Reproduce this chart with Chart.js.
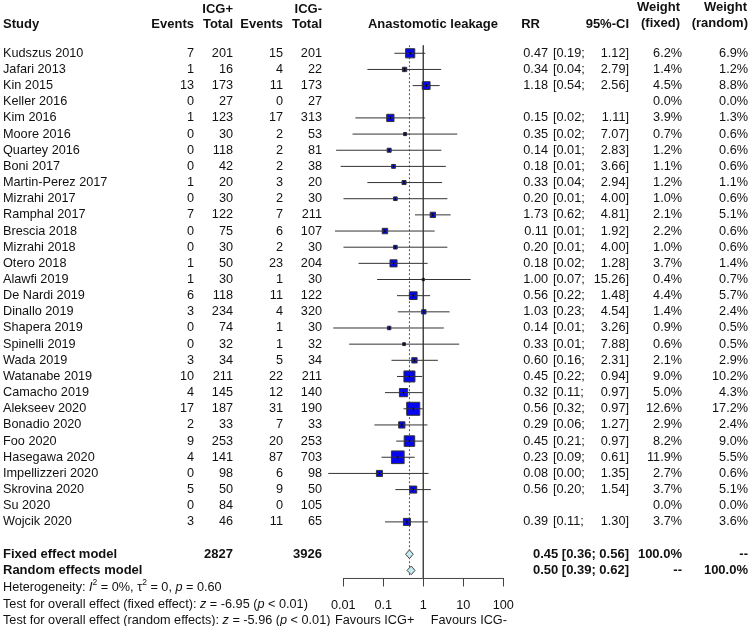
<!DOCTYPE html>
<html>
<head>
<meta charset="utf-8">
<script src="https://cdn.jsdelivr.net/npm/chart.js@4.4.1/dist/chart.umd.min.js"></script>
<style>
  html, body { margin: 0; padding: 0; background: #fff; }
  #wrap { position: relative; width: 749px; height: 626px; }
</style>
</head>
<body>
<div id="wrap"><canvas id="forest"></canvas></div>
<script>
// study table
const studies = ['Kudszus 2010', 'Jafari 2013', 'Kin 2015', 'Keller 2016', 'Kim 2016', 'Moore 2016',
  'Quartey 2016', 'Boni 2017', 'Martin-Perez 2017', 'Mizrahi 2017', 'Ramphal 2017', 'Brescia 2018',
  'Mizrahi 2018', 'Otero 2018', 'Alawfi 2019', 'De Nardi 2019', 'Dinallo 2019', 'Shapera 2019',
  'Spinelli 2019', 'Wada 2019', 'Watanabe 2019', 'Camacho 2019', 'Alekseev 2020', 'Bonadio 2020',
  'Foo 2020', 'Hasegawa 2020', 'Impellizzeri 2020', 'Skrovina 2020', 'Su 2020', 'Wojcik 2020'];
const eventsPos = [7, 1, 13, 0, 1, 0, 0, 0, 1, 0, 7, 0, 0, 1, 1, 6, 3, 0, 0, 3, 10, 4, 17, 2, 9, 4, 0, 5, 0, 3];
const totalPos = [201, 16, 173, 27, 123, 30, 118, 42, 20, 30, 122, 75, 30, 50, 30, 118, 234, 74, 32, 34, 211, 145, 187, 33, 253, 141, 98, 50, 84, 46];
const eventsNeg = [15, 4, 11, 0, 17, 2, 2, 2, 3, 2, 7, 6, 2, 23, 1, 11, 4, 1, 1, 5, 22, 12, 31, 7, 20, 87, 6, 9, 0, 11];
const totalNeg = [201, 22, 173, 27, 313, 53, 81, 38, 20, 30, 211, 107, 30, 204, 30, 122, 320, 30, 32, 34, 211, 140, 190, 33, 253, 703, 98, 50, 105, 65];
const rr = [0.47, 0.34, 1.18, null, 0.15, 0.35, 0.14, 0.18, 0.33, 0.20, 1.73, 0.11, 0.20, 0.18, 1.00, 0.56, 1.03, 0.14, 0.33, 0.60, 0.45, 0.32, 0.56, 0.29, 0.45, 0.23, 0.08, 0.56, null, 0.39];
// lower limits printed as 0.01 / 0.00 are estimated more finely from the line ends
const ciLow = [0.19, 0.04, 0.54, null, 0.02, 0.017, 0.0066, 0.0086, 0.04, 0.0101, 0.62, 0.0062, 0.0101, 0.024, 0.07, 0.22, 0.23, 0.0056, 0.014, 0.16, 0.22, 0.11, 0.32, 0.06, 0.21, 0.09, 0.0042, 0.20, null, 0.11];
const ciHigh = [1.12, 2.79, 2.56, null, 1.11, 7.07, 2.83, 3.66, 2.94, 4.00, 4.81, 1.92, 4.00, 1.28, 15.26, 1.48, 4.54, 3.26, 7.88, 2.31, 0.94, 0.97, 0.97, 1.27, 0.97, 0.61, 1.35, 1.54, null, 1.30];
const weightFixed = [6.2, 1.4, 4.5, 0.0, 3.9, 0.7, 1.2, 1.1, 1.2, 1.0, 2.1, 2.2, 1.0, 3.7, 0.4, 4.4, 1.4, 0.9, 0.6, 2.1, 9.0, 5.0, 12.6, 2.9, 8.2, 11.9, 2.7, 3.7, 0.0, 3.7];
const weightRandom = [6.9, 1.2, 8.8, 0.0, 1.3, 0.6, 0.6, 0.6, 1.1, 0.6, 5.1, 0.6, 0.6, 1.4, 0.7, 5.7, 2.4, 0.5, 0.5, 2.9, 10.2, 4.3, 17.2, 2.4, 9.0, 5.5, 0.6, 5.1, 0.0, 3.6];

// pooled estimates
const models = ['Fixed effect model', 'Random effects model'];
const modelRR = [0.45, 0.50];
const modelLow = [0.36, 0.39];
const modelHigh = [0.56, 0.62];
const modelWeightFixed = ['100.0%', '--'];
const modelWeightRandom = ['--', '100.0%'];
const totalsPos = 2827;
const totalsNeg = 3926;

const xTicks = [0.01, 0.1, 1, 10, 100];

const FONT = '"Liberation Sans", Arial, sans-serif';
const FONT_SIZE = 12.7;
const TOP_ROW = -0.5;
const AXIS_ROW = 32.5;
const ROW_FIXED = studies.length + 1;
const ROW_RANDOM = studies.length + 2;

Chart.defaults.font.family = FONT;
Chart.defaults.font.size = FONT_SIZE;
Chart.defaults.color = '#111';

// ---- datasets ----
const datasets = [];

studies.forEach((s, i) => {
  if (rr[i] == null) return;
  datasets.push({
    type: 'line',
    data: [{ x: ciLow[i], y: i }, { x: ciHigh[i], y: i }],
    borderColor: '#333',
    borderWidth: 1,
    pointRadius: 0,
    order: 1
  });
});

const squarePts = [];
const squareR = [];
studies.forEach((s, i) => {
  if (rr[i] == null) return;
  squarePts.push({ x: rr[i], y: i });
  squareR.push(2.6 * Math.sqrt(weightFixed[i]));
});

datasets.push({
  type: 'scatter',
  data: squarePts,
  pointStyle: 'line',
  rotation: 90,
  pointRadius: 1.5,
  borderColor: '#000',
  borderWidth: 1,
  order: 0
});
datasets.push({
  type: 'scatter',
  data: squarePts,
  pointStyle: 'rect',
  pointRadius: squareR,
  backgroundColor: '#0505f0',
  borderColor: '#333',
  borderWidth: 1,
  order: 2
});

// diamonds
[ROW_FIXED, ROW_RANDOM].forEach((row, k) => {
  datasets.push({
    type: 'line',
    data: [
      { x: modelLow[k], y: row },
      { x: modelRR[k], y: row - 0.27 },
      { x: modelHigh[k], y: row },
      { x: modelRR[k], y: row + 0.27 },
      { x: modelLow[k], y: row }
    ],
    borderColor: '#444',
    borderWidth: 1,
    backgroundColor: '#c4eaf2',
    fill: 'shape',
    pointRadius: 0,
    tension: 0,
    order: 0
  });
});

// no-effect line and fixed-effect line
datasets.push({
  type: 'line',
  data: [{ x: 1, y: TOP_ROW }, { x: 1, y: AXIS_ROW }],
  borderColor: '#444',
  borderWidth: 1,
  pointRadius: 0,
  order: 3
});
datasets.push({
  type: 'line',
  data: [{ x: modelRR[0], y: TOP_ROW }, { x: modelRR[0], y: ROW_RANDOM + 0.3 }],
  borderColor: '#555',
  borderWidth: 1,
  borderDash: [2, 2],
  pointRadius: 0,
  order: 4
});
// axis line from first to last tick
datasets.push({
  type: 'line',
  data: [{ x: xTicks[0], y: AXIS_ROW }, { x: xTicks[xTicks.length - 1], y: AXIS_ROW }],
  borderColor: '#444',
  borderWidth: 1,
  pointRadius: 0,
  clip: false,
  order: 3
});

// ---- table text plugin ----
function put(ctx, s, x, y, align, bold) {
  ctx.font = (bold ? 'bold 13px ' : FONT_SIZE + 'px ') + FONT;
  ctx.textAlign = align;
  ctx.fillText(s, x, y);
}

function rich(ctx, parts, x, y) {
  ctx.textAlign = 'left';
  parts.forEach(p => {
    const size = p.sup ? 8.5 : FONT_SIZE;
    ctx.font = (p.it ? 'italic ' : '') + size + 'px ' + FONT;
    ctx.fillText(p.t, x, p.sup ? y - 5 : y);
    x += ctx.measureText(p.t).width;
  });
}

const tablePlugin = {
  id: 'table',
  afterDraw(chart) {
    const ctx = chart.ctx;
    const yS = chart.scales.y;
    ctx.save();
    ctx.fillStyle = '#111';
    ctx.textBaseline = 'middle';

    // header
    put(ctx, 'ICG+', 233, 9, 'right', true);
    put(ctx, 'ICG-', 322, 9, 'right', true);
    put(ctx, 'Weight', 680, 7, 'right', true);
    put(ctx, 'Weight', 747, 7, 'right', true);
    put(ctx, 'Study', 3, 24, 'left', true);
    put(ctx, 'Events', 194, 24, 'right', true);
    put(ctx, 'Total', 233, 24, 'right', true);
    put(ctx, 'Events', 283, 24, 'right', true);
    put(ctx, 'Total', 322, 24, 'right', true);
    put(ctx, 'Anastomotic leakage', 433, 24, 'center', true);
    put(ctx, 'RR', 540, 24, 'right', true);
    put(ctx, '95%-CI', 629, 24, 'right', true);
    put(ctx, '(fixed)', 680, 23, 'right', true);
    put(ctx, '(random)', 748, 23, 'right', true);

    studies.forEach((s, i) => {
      const y = yS.getPixelForValue(i);
      put(ctx, s, 3, y, 'left');
      put(ctx, String(eventsPos[i]), 194, y, 'right');
      put(ctx, String(totalPos[i]), 233, y, 'right');
      put(ctx, String(eventsNeg[i]), 283, y, 'right');
      put(ctx, String(totalNeg[i]), 322, y, 'right');
      if (rr[i] != null) {
        put(ctx, rr[i].toFixed(2), 548, y, 'right');
        put(ctx, '[' + ciLow[i].toFixed(2) + ';', 553, y, 'left');
        put(ctx, ciHigh[i].toFixed(2) + ']', 629, y, 'right');
      }
      put(ctx, weightFixed[i].toFixed(1) + '%', 682, y, 'right');
      put(ctx, weightRandom[i].toFixed(1) + '%', 748, y, 'right');
    });

    models.forEach((m, k) => {
      const y = yS.getPixelForValue(k === 0 ? ROW_FIXED : ROW_RANDOM);
      put(ctx, m, 3, y, 'left', true);
      if (k === 0) {
        put(ctx, String(totalsPos), 233, y, 'right', true);
        put(ctx, String(totalsNeg), 322, y, 'right', true);
      }
      const ci = '[' + modelLow[k].toFixed(2) + '; ' + modelHigh[k].toFixed(2) + ']';
      put(ctx, ci, 629, y, 'right', true);
      const w = ctx.measureText(ci).width;
      put(ctx, modelRR[k].toFixed(2), 629 - w - 3.5, y, 'right', true);
      put(ctx, modelWeightFixed[k], 682, y, 'right', true);
      put(ctx, modelWeightRandom[k], 748, y, 'right', true);
    });

    rich(ctx, [
      { t: 'Heterogeneity: ' }, { t: 'I', it: true }, { t: '2', sup: true },
      { t: ' = 0%, τ' }, { t: '2', sup: true }, { t: ' = 0, ' }, { t: 'p', it: true }, { t: ' = 0.60' }
    ], 3, yS.getPixelForValue(ROW_RANDOM + 1.05));
    rich(ctx, [
      { t: 'Test for overall effect (fixed effect): ' }, { t: 'z', it: true }, { t: ' = -6.95 (' },
      { t: 'p', it: true }, { t: ' < 0.01)' }
    ], 3, yS.getPixelForValue(ROW_RANDOM + 2.1));
    rich(ctx, [
      { t: 'Test for overall effect (random effects): ' }, { t: 'z', it: true }, { t: ' = -5.96 (' },
      { t: 'p', it: true }, { t: ' < 0.01)' }
    ], 3, yS.getPixelForValue(ROW_RANDOM + 3.1));

    const xS = chart.scales.x;
    const yFav = yS.getPixelForValue(ROW_RANDOM + 3.1);
    put(ctx, 'Favours ICG+', xS.getPixelForValue(1) - 9, yFav, 'right');
    put(ctx, 'Favours ICG-', xS.getPixelForValue(1) + 7.5, yFav, 'left');
    ctx.restore();
  }
};

new Chart(document.getElementById('forest'), {
  type: 'scatter',
  data: { datasets },
  plugins: [tablePlugin],
  options: {
    responsive: true,
    maintainAspectRatio: false,
    animation: false,
    layout: { padding: { left: 322.4, right: 226.6, top: 45.2, bottom: 2.3 } },
    plugins: { legend: { display: false }, tooltip: { enabled: false } },
    scales: {
      x: {
        type: 'logarithmic',
        min: 0.003,
        max: 300,
        afterBuildTicks: axis => { axis.ticks = xTicks.map(v => ({ value: v })); },
        ticks: {
          callback: v => String(v),
          padding: 11,
          maxRotation: 0,
          autoSkip: false,
          color: '#111',
          font: { size: FONT_SIZE }
        },
        grid: { drawOnChartArea: false, tickLength: 8, color: '#444' },
        border: { display: false }
      },
      y: {
        type: 'linear',
        reverse: true,
        min: TOP_ROW,
        max: AXIS_ROW,
        display: false
      }
    }
  }
});
</script>
</body>
</html>
